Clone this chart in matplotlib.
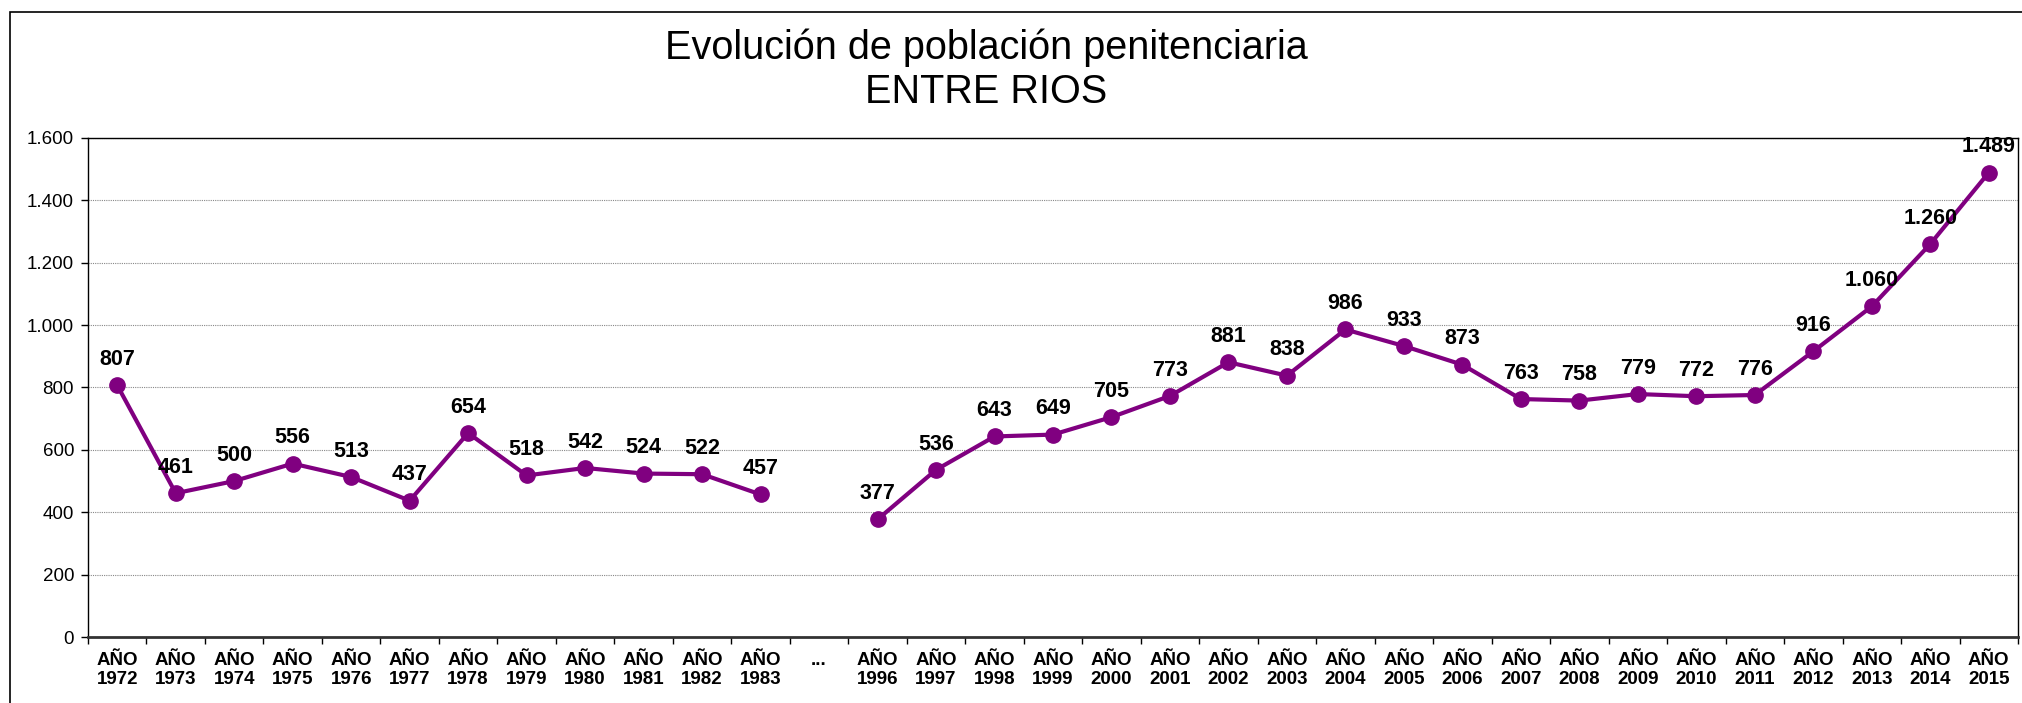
import numpy as np
import matplotlib
matplotlib.use("Agg")
import matplotlib.pyplot as plt
from matplotlib.ticker import FuncFormatter, FixedLocator

# data
years = ["1972", "1973", "1974", "1975", "1976", "1977", "1978", "1979",
         "1980", "1981", "1982", "1983", "...", "1996", "1997", "1998",
         "1999", "2000", "2001", "2002", "2003", "2004", "2005", "2006",
         "2007", "2008", "2009", "2010", "2011", "2012", "2013", "2014", "2015"]
poblacion = [807, 461, 500, 556, 513, 437, 654, 518, 542, 524, 522, 457, None,
             377, 536, 643, 649, 705, 773, 881, 838, 986, 933, 873, 763, 758,
             779, 772, 776, 916, 1060, 1260, 1489]

tick_labels = [y if y == "..." else "AÑO\n" + y for y in years]

PURPLE = "#800080"
plt.rcParams['font.family'] = ['Liberation Sans', 'DejaVu Sans']


def miles(v):
    return f"{int(v):,}".replace(",", ".")


fig = plt.figure(figsize=(20.22, 7.03), dpi=100)
ax = fig.add_axes([88 / 2022, 1 - 637 / 703, (2018 - 88) / 2022, (637 - 138) / 703])

x = np.arange(len(years))
y = np.array([np.nan if v is None else v for v in poblacion], dtype=float)

ax.plot(x, y, color=PURPLE, lw=3, marker="o", markersize=11, zorder=3)

for xi, v in zip(x, poblacion):
    if v is None:
        continue
    ax.annotate(miles(v), (xi, v), xytext=(0, 11), textcoords="offset points",
                ha="center", va="bottom", fontsize=15.5, fontweight="bold", zorder=4)

ax.set_xlim(-0.5, len(years) - 0.5)
ax.set_ylim(0, 1600)
ax.set_yticks(np.arange(0, 1601, 200))
ax.yaxis.set_major_formatter(FuncFormatter(lambda v, p: miles(v)))
ax.tick_params(axis="y", labelsize=13.5, length=5, width=1, direction="out", pad=5)

ax.set_xticks(x)
ax.set_xticklabels(tick_labels, fontsize=13.5, fontweight="bold",
                   family=['Liberation Sans Narrow', 'Liberation Sans', 'DejaVu Sans'],
                   linespacing=1.1)
ax.xaxis.set_minor_locator(FixedLocator(np.arange(-0.5, len(years), 1)))
ax.tick_params(axis="x", which="major", length=0, pad=11)
ax.tick_params(axis="x", which="minor", length=5, width=1, direction="out")

ax.grid(axis="y", color="#888888", linestyle=(0, (1, 1)), linewidth=0.8)
ax.set_axisbelow(True)
for side in ["left", "top", "right"]:
    ax.spines[side].set_linewidth(1)
    ax.spines[side].set_color("black")
ax.spines["bottom"].set_linewidth(2)
ax.spines["bottom"].set_color("#333333")

title_x = 986 / 2022
fig.text(title_x, 1 - 48 / 703, "Evolución de población penitenciaria", ha="center",
         va="center", fontsize=28.5)
fig.text(title_x, 1 - 92 / 703, "ENTRE RIOS", ha="center", va="center", fontsize=28.5)

# outer frame
frame = plt.Rectangle((10 / 2022, -0.01), 1.0, 1 - 12 / 703 + 0.01,
                      transform=fig.transFigure, fill=False, lw=1.2,
                      edgecolor="black")
fig.patches.append(frame)

fig.savefig("out.png", dpi=100)
